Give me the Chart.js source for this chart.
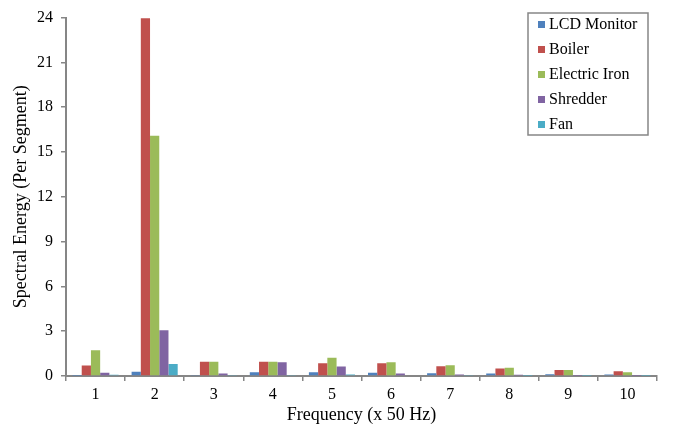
<!DOCTYPE html>
<html>
<head>
<meta charset="utf-8">
<script src="https://cdn.jsdelivr.net/npm/chart.js@4.4.1/dist/chart.umd.min.js"></script>
<style>
  html, body { margin: 0; padding: 0; background: #fff; }
  #wrap { width: 678px; height: 432px; position: relative; }
</style>
</head>
<body>
<div id="wrap"><canvas id="chart"></canvas></div>
<script>
// values
var frequencies = ['1', '2', '3', '4', '5', '6', '7', '8', '9', '10'];
var lcdMonitor   = [0.02, 0.29, 0.03, 0.25, 0.25, 0.22, 0.18, 0.16, 0.12, 0.10];
var boiler       = [0.70, 23.95, 0.96, 0.96, 0.85, 0.85, 0.65, 0.51, 0.40, 0.31];
var electricIron = [1.72, 16.08, 0.96, 0.96, 1.23, 0.92, 0.72, 0.56, 0.40, 0.25];
var shredder     = [0.22, 3.06, 0.16, 0.92, 0.63, 0.16, 0.10, 0.08, 0.02, 0.01];
var fan          = [0.08, 0.80, 0.07, 0.07, 0.10, 0.05, 0.03, 0.02, 0.01, 0.01];
var seriesNames  = ['LCD Monitor', 'Boiler', 'Electric Iron', 'Shredder', 'Fan'];
var seriesColors = ['#4F81BD', '#C0504D', '#9BBB59', '#8064A2', '#4BACC6'];
var yTicks = [0, 3, 6, 9, 12, 15, 18, 21, 24];

var serif = "'Liberation Serif', 'Times New Roman', serif";

var allSeries = [lcdMonitor, boiler, electricIron, shredder, fan];
var datasets = allSeries.map(function(vals, i) {
    return {
        label: seriesNames[i],
        data: vals,
        backgroundColor: seriesColors[i],
        borderWidth: 0,
        categoryPercentage: 0.78,
        barPercentage: 1.0
    };
});

// legend box drawn inside the plot area
var boxLegend = {
    id: 'boxLegend',
    afterDraw: function(chart) {
        var ctx = chart.ctx;
        var x0 = 528, y0 = 13, w = 120, h = 122;
        ctx.save();
        ctx.strokeStyle = '#868686';
        ctx.lineWidth = 1.5;
        ctx.fillStyle = '#fff';
        ctx.fillRect(x0, y0, w, h);
        ctx.strokeRect(x0, y0, w, h);
        ctx.font = '16px ' + serif;
        ctx.textBaseline = 'middle';
        chart.data.datasets.forEach(function(ds, i) {
            var cy = y0 + 12 + i * 25;
            ctx.fillStyle = ds.backgroundColor;
            ctx.fillRect(x0 + 10, cy - 4, 7, 7);
            ctx.fillStyle = '#000';
            ctx.fillText(ds.label, x0 + 21, cy);
        });
        ctx.restore();
    }
};

var ctx = document.getElementById('chart');
var chart = new Chart(ctx, {
    type: 'bar',
    data: { labels: frequencies, datasets: datasets },
    options: {
        responsive: true,
        maintainAspectRatio: false,
        animation: false,
        layout: { padding: { top: 17, right: 21, left: 0, bottom: 0 } },
        plugins: {
            legend: { display: false },
            tooltip: { enabled: false }
        },
        scales: {
            x: {
                offset: true,
                grid: {
                    display: true,
                    offset: true,
                    drawOnChartArea: false,
                    drawTicks: true,
                    tickLength: 5,
                    color: '#868686',
                    lineWidth: 1.5
                },
                border: { display: true, color: '#868686', width: 2 },
                ticks: { color: '#000', font: { family: serif, size: 16 }, padding: 4 },
                title: {
                    display: true,
                    text: 'Frequency (x 50 Hz)',
                    color: '#000',
                    font: { family: serif, size: 18 },
                    padding: { top: 0, bottom: 6 }
                },
                afterFit: function(scale) { scale.height = 56; }
            },
            y: {
                min: 0,
                max: 24,
                afterBuildTicks: function(scale) {
                    scale.ticks = yTicks.map(function(v) { return { value: v }; });
                },
                grid: {
                    display: true,
                    drawOnChartArea: false,
                    drawTicks: true,
                    tickLength: 5,
                    color: '#868686',
                    lineWidth: 1.5
                },
                border: { display: true, color: '#868686', width: 2 },
                ticks: { color: '#000', font: { family: serif, size: 16 }, padding: 8 },
                title: {
                    display: true,
                    text: 'Spectral Energy (Per Segment)',
                    color: '#000',
                    font: { family: serif, size: 18 },
                    padding: { top: 10, bottom: 0 }
                },
                afterFit: function(scale) { scale.width = 66; }
            }
        }
    },
    plugins: [boxLegend]
});
</script>
</body>
</html>
